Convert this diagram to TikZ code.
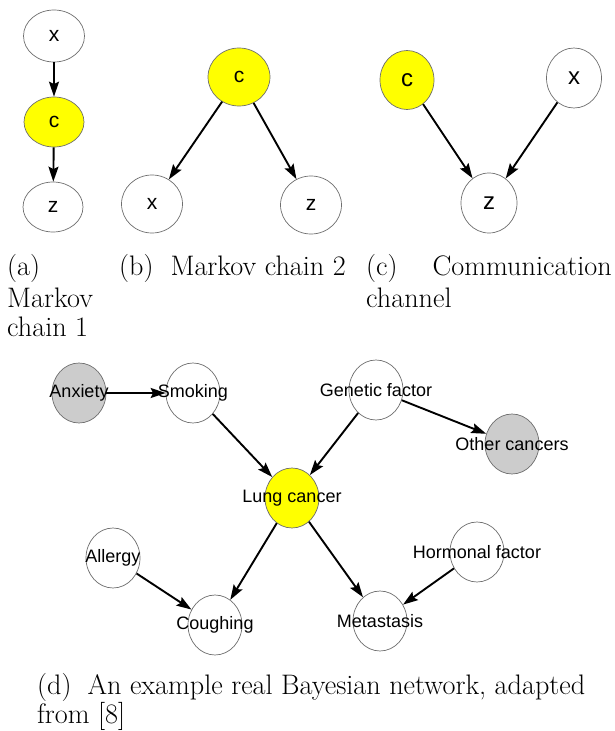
\documentclass[tikz,border=0pt]{standalone}
\usepackage{fontspec}
\newfontfamily\sansf{Liberation Sans}
\usetikzlibrary{shapes.geometric,arrows.meta}
\definecolor{nodeyellow}{RGB}{255,255,0}
\definecolor{nodegray}{RGB}{204,204,204}
\definecolor{rimgray}{RGB}{110,110,110}
\tikzset{
  nd/.style 2 args={ellipse, draw=rimgray, line width=0.7pt, fill=white, inner sep=0pt,
    minimum width=#1pt, minimum height=#2pt},
  obs/.style={fill=nodeyellow},
  hid/.style={fill=nodegray},
  lett/.style={font=\sansf\fontsize{21}{21}\selectfont},
  lettc/.style={font=\sansf\fontsize{24}{24}\selectfont},
  bnlab/.style={font=\sansf\fontsize{18}{18}\selectfont, inner sep=0pt},
  arr/.style={-{Stealth[length=15pt,width=10pt,inset=2.5pt]}, line width=1.9pt},
  captxt/.style={font=\fontsize{28.2}{30}\selectfont, anchor=base west, inner sep=0pt}
}
\begin{document}
\begin{tikzpicture}[x=1pt,y=-1pt]
\useasboundingbox (0,0) rectangle (614,731);
% (a)
\node[nd={61}{52}, lett] (ax) at (54,36) {x};
\node[nd={60}{50}, obs, lett] (ac) at (54,122) {c};
\node[nd={60}{50}, lett] (az) at (53,207) {z};
\draw[arr] (ax) -- (ac);
\draw[arr] (ac) -- (az);
% (b)
\node[nd={62}{58}, obs, lett] (bc) at (239,77) {c};
\node[nd={61}{58}, lett] (bx) at (152,204) {x};
\node[nd={61}{58}, lett] (bz) at (311,205) {z};
\draw[arr] (bc) -- (bx);
\draw[arr] (bc) -- (bz);
% (c)
\node[nd={54}{59}, obs, lettc] (cc) at (407,80) {c};
\node[nd={55}{60}, lettc] (cx) at (574,78) {x};
\node[nd={56}{60}, lettc] (cz) at (489,203) {z};
\draw[arr] (cc) -- (cz);
\draw[arr] (cx) -- (cz);
% captions a-c
\node[captxt] (capa1) at (7,275) {(a)};
\node[captxt] (capa2) at (7,307) {Markov};
\node[captxt] (capa3) at (7,336) {chain 1};
\node[captxt] (capb) at (119,275) {(b)\hspace{17pt}Markov chain 2};
\node[captxt] (capc1) at (366,275) {(c)};
\node[captxt, anchor=base east] (capc2) at (612,275) {Communication};
\node[captxt] (capc3) at (366,307) {channel};
% (d)
\node[nd={54}{60}, hid, label={[bnlab]center:Anxiety}] (anx) at (79,393) {};
\node[nd={54}{60}, label={[bnlab]center:Smoking}] (smk) at (193,393) {};
\node[nd={54}{60}, label={[bnlab]center:Genetic factor}] (gen) at (376,390) {};
\node[nd={54}{60}, hid, label={[bnlab]center:Other cancers}] (oth) at (512,444) {};
\node[nd={54}{60}, obs, label={[bnlab]center:Lung cancer}] (lung) at (292,498) {};
\node[nd={54}{60}, label={[bnlab]center:Allergy}] (all) at (113,558) {};
\node[nd={54}{60}, label={[bnlab]center:Coughing}] (cou) at (215,625) {};
\node[nd={54}{60}, label={[bnlab]center:Hormonal factor}] (hor) at (477,552) {};
\node[nd={54}{60}, label={[bnlab]center:Metastasis}] (met) at (380,621) {};
\draw[arr] (anx) -- (smk);
\draw[arr] (smk) -- (lung);
\draw[arr] (gen) -- (lung);
\draw[arr] (gen) -- (oth);
\draw[arr] (lung) -- (cou);
\draw[arr] (lung) -- (met);
\draw[arr] (all) -- (cou);
\draw[arr] (hor) -- (met);
% caption d
\node[captxt] (capd1) at (37,694) {(d)\hspace{16pt}An example real Bayesian network, adapted};
\node[captxt] (capd2) at (37,723) {from [8]};
\end{tikzpicture}
\end{document}
